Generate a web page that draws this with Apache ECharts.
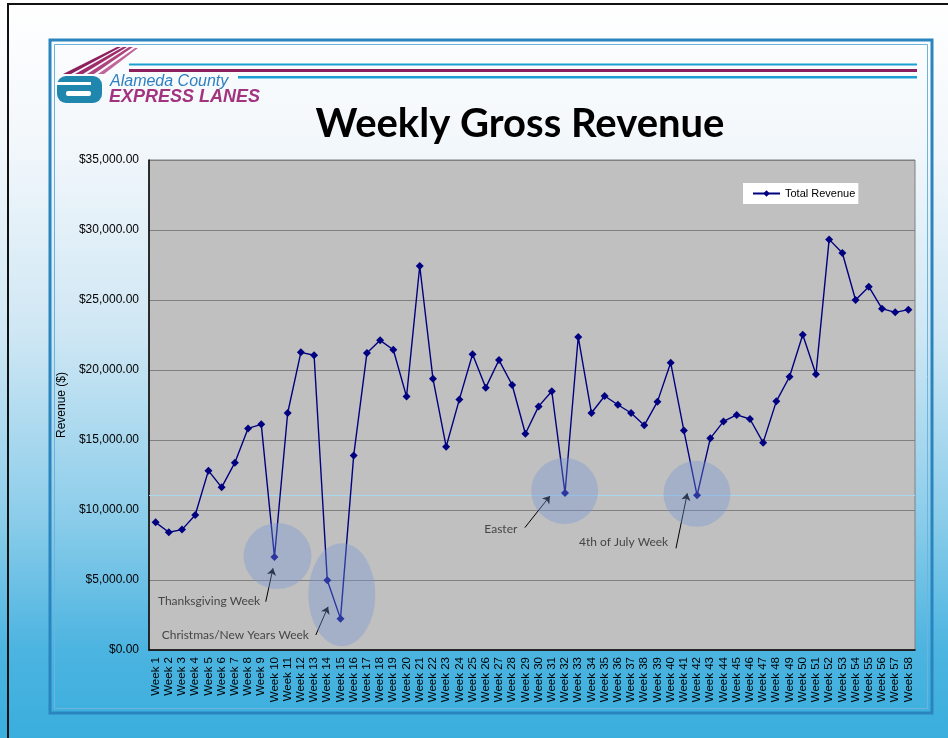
<!DOCTYPE html>
<html>
<head>
<meta charset="utf-8">
<title>Weekly Gross Revenue</title>
<script src="https://cdn.jsdelivr.net/npm/echarts@6/dist/echarts.min.js"></script>
<style>
  html, body { margin: 0; padding: 0; background: #fff; }
  #main { width: 948px; height: 738px; }
</style>
</head>
<body>
<div id="main"></div>
<script>
// weekly revenue, Week 1 .. Week 58
var weeks = Array.from({ length: 58 }, function (_, i) { return 'Week ' + (i + 1); });
var revenue = [
  9120, 8410, 8600, 9640, 12810, 11620, 13380, 15830, 16120, 6640,
  16930, 21260, 21050, 4980, 2240, 13900, 21210, 22120, 21450, 18100,
  27430, 19380, 14520, 17900, 21120, 18740, 20710, 18930, 15450, 17400,
  18480, 11210, 22360, 16930, 18140, 17520, 16930, 16050, 17740, 20520,
  15670, 11050, 15120, 16330, 16790, 16500, 14810, 17760, 19520, 22520,
  19690, 29330, 28360, 25000, 25950, 24380, 24120, 24310
];
var yMin = 0, yMax = 35000, yStep = 5000;

// callouts (x in week-index units, y in dollars)
var noteLabels = ['Thanksgiving Week', 'Christmas/New Years Week', 'Easter', '4th of July Week'];
var noteTextAt = [[8.11, 3500], [11.8, 1070], [27.58, 8640], [39.0, 7740]];
var arrowFrom = [[8.34, 3450], [12.13, 1070], [27.96, 8740], [39.4, 7260]];
var arrowTo = [[8.89, 5840], [13.06, 3090], [29.86, 11000], [40.26, 11190]];
var circleAt = [[9.23, 6710], [14.1, 3950], [30.97, 11360], [40.99, 11160]];
var stray = 11070; // faint blue line across the plot

var chart = echarts.init(document.getElementById('main'));

var circleSize = [[68, 66], [67, 103], [67, 66], [67, 66]];

var option = {
  animation: false,
  backgroundColor: new echarts.graphic.LinearGradient(0, 0, 0, 1, [
    { offset: 0, color: '#ffffff' },
    { offset: 0.2, color: '#f2f7fb' },
    { offset: 0.45, color: '#cfe7f4' },
    { offset: 0.7, color: '#8ccdea' },
    { offset: 0.88, color: '#4cb4e0' },
    { offset: 1, color: '#3aaedd' }
  ]),
  textStyle: { fontFamily: 'Liberation Sans' },
  graphic: [
    // outer black frame
    { type: 'rect', shape: { x: 7, y: 3, width: 2, height: 735 }, style: { fill: '#111' } },
    { type: 'rect', shape: { x: 7, y: 3, width: 941, height: 2 }, style: { fill: '#111' } },
    // slide double border
    { type: 'rect', shape: { x: 50, y: 40, width: 882, height: 673 }, style: { fill: null, stroke: '#2a85bf', lineWidth: 3 } },
    { type: 'rect', shape: { x: 54.5, y: 44.5, width: 873, height: 664 }, style: { fill: null, stroke: '#6cb4de', lineWidth: 1 } },
    // header rules
    { type: 'rect', shape: { x: 129, y: 63.5, width: 788, height: 2 }, style: { fill: '#1b9fd3' } },
    { type: 'rect', shape: { x: 129, y: 69, width: 788, height: 3 }, style: { fill: '#8e1f5e' } },
    { type: 'rect', shape: { x: 238, y: 76, width: 679, height: 2.5 }, style: { fill: '#1b9fd3' } },
    // logo swoosh
    { type: 'polygon', shape: { points: [[63, 74], [71, 74], [121, 47], [117, 47]] }, style: { fill: '#8e1f5e' } },
    { type: 'polygon', shape: { points: [[75, 74], [83, 74], [127, 47], [123, 47]] }, style: { fill: '#9e2c6c' } },
    { type: 'polygon', shape: { points: [[87, 74], [94, 74], [133, 47], [129, 47]] }, style: { fill: '#ae437d' } },
    { type: 'polygon', shape: { points: [[98, 74], [104, 74], [138, 48], [135, 48]] }, style: { fill: '#c0649a' } },
    // logo "a"
    { type: 'rect', shape: { x: 57, y: 76, width: 45, height: 27, r: 9 }, style: { fill: '#1f87ae' } },
    { type: 'rect', shape: { x: 57, y: 82, width: 34, height: 3 }, style: { fill: '#ffffff' } },
    { type: 'rect', shape: { x: 66, y: 91, width: 25, height: 5, r: 2 }, style: { fill: '#ffffff' } },
    { type: 'text', x: 110, y: 82, style: { text: 'Alameda County', font: 'italic 16px "Liberation Sans"', fill: '#2f80c0', textVerticalAlign: 'middle' } },
    { type: 'text', x: 109, y: 97.5, style: { text: 'EXPRESS LANES', font: 'italic bold 18px "Liberation Sans"', fill: '#a2337f', textVerticalAlign: 'middle' } },
    // slide title
    { type: 'text', x: 520, y: 124, style: { text: 'Weekly Gross Revenue', font: 'bold 40px Lato', fill: '#000', textAlign: 'center', textVerticalAlign: 'middle' } }
  ],
  legend: {
    data: ['Total Revenue'],
    left: 743,
    top: 183,
    backgroundColor: '#ffffff',
    padding: [5, 3, 5, 9],
    itemWidth: 27,
    itemHeight: 8,
    textStyle: { fontSize: 11, color: '#000', fontFamily: 'Liberation Sans' }
  },
  grid: {
    left: 149, right: 33, top: 160, bottom: 88,
    show: true,
    backgroundColor: '#c0c0c0',
    borderColor: '#808080',
    borderWidth: 1
  },
  xAxis: [
    {
      type: 'category',
      data: weeks,
      boundaryGap: true,
      axisLine: { onZero: false, lineStyle: { color: '#000', width: 1.5 } },
      axisTick: { show: false },
      axisLabel: { rotate: 90, interval: 0, fontSize: 11.5, color: '#000', margin: 7 }
    },
    { type: 'value', min: -0.5, max: 57.5, show: false }
  ],
  yAxis: {
    type: 'value',
    min: yMin, max: yMax, interval: yStep,
    name: 'Revenue ($)',
    nameLocation: 'middle',
    nameGap: 69,
    nameTextStyle: { fontSize: 12, color: '#000' },
    axisLine: { show: true, onZero: false, lineStyle: { color: '#000', width: 1.5 } },
    axisTick: { show: false },
    splitLine: { lineStyle: { color: '#808080', width: 1 } },
    axisLabel: {
      fontSize: 12, color: '#000', margin: 10,
      formatter: function (v) {
        return '$' + v.toLocaleString('en-US', { minimumFractionDigits: 2, maximumFractionDigits: 2 });
      }
    }
  },
  series: [
    {
      // faint light-blue rule running across the plot
      type: 'lines',
      coordinateSystem: 'cartesian2d',
      xAxisIndex: 1,
      yAxisIndex: 0,
      silent: true,
      symbol: ['none', 'none'],
      lineStyle: { color: '#a8d8ef', width: 1, opacity: 1, curveness: 0 },
      data: [{ coords: [[-0.5, stray], [57.5, stray]] }],
      z: 1
    },
    {
      name: 'Total Revenue',
      type: 'line',
      data: revenue,
      symbol: 'diamond',
      symbolSize: 8,
      itemStyle: { color: '#000080' },
      lineStyle: { color: '#000080', width: 1.4 },
      z: 3
    },
    {
      type: 'lines',
      coordinateSystem: 'cartesian2d',
      xAxisIndex: 1,
      yAxisIndex: 0,
      silent: true,
      symbol: ['none', 'arrow'],
      symbolSize: 7,
      lineStyle: { color: '#000', width: 1, opacity: 1, curveness: 0 },
      data: arrowFrom.map(function (p, i) { return { coords: [p, arrowTo[i]] }; }),
      z: 4
    },
    {
      type: 'scatter',
      xAxisIndex: 1,
      yAxisIndex: 0,
      silent: true,
      symbolSize: 1,
      itemStyle: { color: 'rgba(0,0,0,0)' },
      label: {
        show: true, position: 'left', distance: 2,
        formatter: function (p) { return p.name; },
        fontFamily: 'Lato', fontSize: 12, color: '#262626'
      },
      data: noteTextAt.map(function (p, i) { return { name: noteLabels[i], value: p }; }),
      z: 4
    },
    {
      type: 'scatter',
      xAxisIndex: 1,
      yAxisIndex: 0,
      silent: true,
      symbol: 'circle',
      itemStyle: {
        color: 'rgba(118,150,212,0.46)',
        decal: {
          symbol: 'rect',
          symbolSize: 1,
          color: 'rgba(255,255,255,0.18)',
          dashArrayX: [1, 1],
          dashArrayY: [1, 1],
          rotation: 0
        }
      },
      data: circleAt.map(function (p, i) { return { value: p, symbolSize: circleSize[i] }; }),
      z: 5
    }
  ]
};

chart.setOption(option);
</script>
</body>
</html>
